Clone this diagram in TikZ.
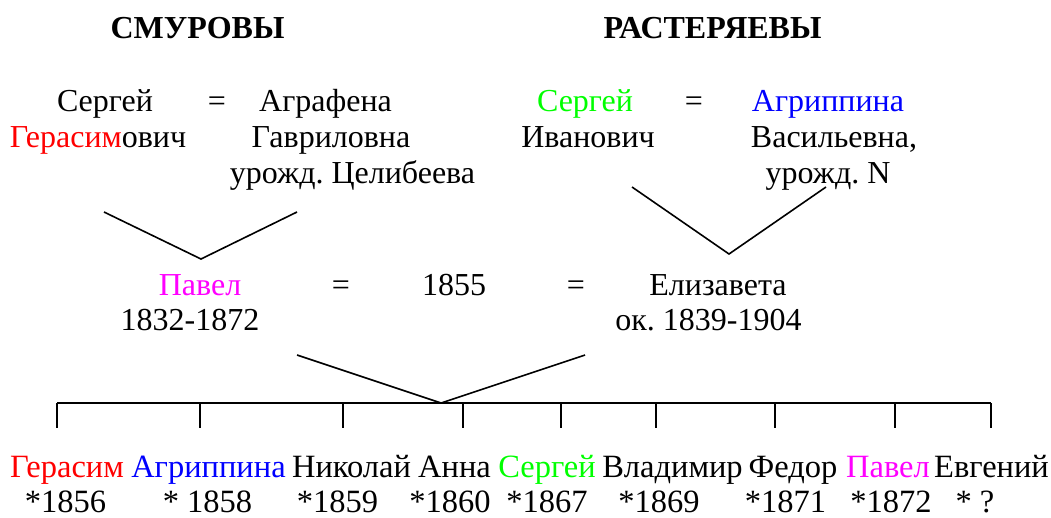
\documentclass[tikz,border=0pt]{standalone}
\usepackage{fontspec}
\setmainfont{Liberation Serif}
\frenchspacing
\definecolor{cred}{RGB}{255,0,0}
\definecolor{cblue}{RGB}{0,0,255}
\definecolor{cgreen}{RGB}{0,255,0}
\definecolor{cmag}{RGB}{255,0,255}
\begin{document}
\begin{tikzpicture}[x=1pt,y=-1pt,
  txt/.style={inner sep=0pt, anchor=base, font=\fontsize{32}{38}\selectfont\frenchspacing},
  kid/.style={inner sep=0pt, anchor=base, font=\fontsize{32.5}{38}\selectfont},
  title/.style={txt, font=\fontsize{32}{38}\selectfont\bfseries},
  link/.style={line width=1.6pt},
  tick/.style={line width=1.6pt}]
\useasboundingbox (0,0) rectangle (1051,517);
% titles
\node[title] (smu) at (197.5,38) {СМУРОВЫ};
\node[title] (ras) at (712.5,38) {РАСТЕРЯЕВЫ};
% Smurov couple
\node[txt] (s1a) at (105,111) {Сергей};
\node[txt] (s1b) at (98,147) {\textcolor{cred}{Герасим}ович};
\node[txt] (eq1) at (217,111) {=};
\node[txt] (a1a) at (325.5,111) {Аграфена};
\node[txt] (a1b) at (331,147) {Гавриловна};
\node[txt] (a1c) at (352.5,183) {урожд.\ Целибеева};
% Rasteryaev couple
\node[txt,text=cgreen] (s2a) at (585,111) {Сергей};
\node[txt] (s2b) at (588,147) {Иванович};
\node[txt] (eq2) at (694,111) {=};
\node[txt,text=cblue] (a2a) at (828,111) {Агриппина};
\node[txt] (a2b) at (834,147) {Васильевна,};
\node[txt] (a2c) at (828,183) {урожд.\ N};
% middle couple
\node[txt,text=cmag] (pa) at (200,295) {Павел};
\node[txt] (pb) at (190,330) {1832-1872};
\node[txt] (eq3) at (341,295) {=};
\node[txt] (yr) at (454,295) {1855};
\node[txt] (eq4) at (576,295) {=};
\node[txt] (ea) at (718,295) {Елизавета};
\node[txt] (eb) at (708.5,330) {ок.\ 1839-1904};
% V connectors
\coordinate (l1) at (104,212);
\coordinate (l2) at (201,259);
\coordinate (l3) at (297,212);
\coordinate (r1) at (632,187);
\coordinate (r2) at (729,254);
\coordinate (r3) at (826,187);
\coordinate (m1) at (297,355);
\coordinate (m2) at (441,403);
\coordinate (m3) at (585,355);
\draw[link] (l1) -- (l2) -- (l3);
\draw[link] (r1) -- (r2) -- (r3);
\draw[link] (m1) -- (m2) -- (m3);
% sibling bar
\coordinate (b0) at (57,403);
\coordinate (b1) at (200,403);
\coordinate (b2) at (343,403);
\coordinate (b3) at (463,403);
\coordinate (b4) at (561,403);
\coordinate (b5) at (656,403);
\coordinate (b6) at (775,403);
\coordinate (b7) at (895,403);
\coordinate (b8) at (991,403);
\draw[tick] (b0) -- (b8);
\foreach \i in {0,...,8} \draw[tick] (b\i) -- ++(0,25);
% children
\node[kid,text=cred] (c1) at (67,477) {Герасим};
\node[kid,text=cblue] (c2) at (208.5,477) {Агриппина};
\node[kid] (c3) at (351.5,477) {Николай};
\node[kid] (c4) at (454.5,477) {Анна};
\node[kid,text=cgreen] (c5) at (547,477) {Сергей};
\node[kid] (c6) at (672.5,477) {Владимир};
\node[kid] (c7) at (793,477) {Федор};
\node[kid,text=cmag] (c8) at (888,477) {Павел};
\node[kid] (c9) at (991.5,477) {Евгений};
\node[kid] (d1) at (65.5,512) {*1856};
\node[kid] (d2) at (207.5,512) {* 1858};
\node[kid] (d3) at (337.5,512) {*1859};
\node[kid] (d4) at (450,512) {*1860};
\node[kid] (d5) at (547,512) {*1867};
\node[kid] (d6) at (659,512) {*1869};
\node[kid] (d7) at (785.5,512) {*1871};
\node[kid] (d8) at (891,512) {*1872};
\node[kid] (d9) at (975,512) {* ?};
\end{tikzpicture}
\end{document}
